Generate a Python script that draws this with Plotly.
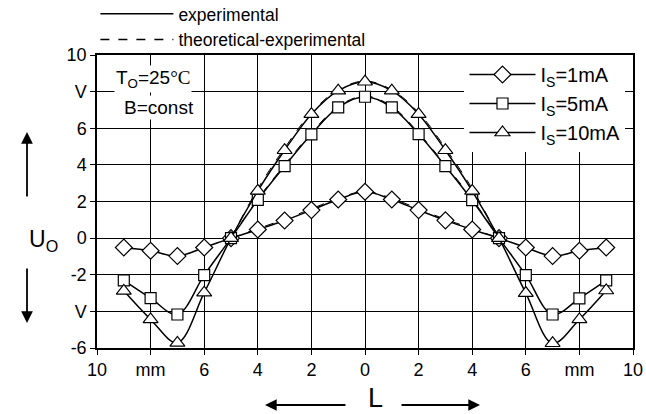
import plotly.graph_objects as go

# ---- data ----
x_pos = [-9, -8, -7, -6, -5, -4, -3, -2, -1, 0, 1, 2, 3, 4, 5, 6, 7, 8, 9]
u_1mA = [-0.51, -0.69, -0.98, -0.51, 0, 0.47, 0.96, 1.53, 2.11, 2.53, 2.11, 1.53, 0.97, 0.47, 0, -0.51, -0.98, -0.69, -0.51]
u_5mA = [-2.31, -3.28, -4.17, -2.02, 0, 2.09, 3.93, 5.67, 7.14, 7.72, 7.14, 5.68, 3.93, 2.07, 0, -2.02, -4.17, -3.29, -2.31]
u_10mA = [-2.88, -4.44, -5.72, -2.98, 0, 2.58, 4.80, 6.77, 8.05, 8.54, 8.05, 6.77, 4.80, 2.58, 0, -3.00, -5.74, -4.44, -2.86]

x_theo = [-5, -4, -3, -2, -1, 0, 1, 2, 3, 4, 5]
t_1mA = [0, 0.52, 1.03, 1.60, 2.17, 2.56, 2.17, 1.60, 1.03, 0.52, 0]
t_5mA = [0, 2.14, 4.00, 5.75, 7.20, 7.76, 7.20, 5.75, 4.00, 2.14, 0]
t_10mA = [0, 2.70, 4.92, 6.86, 8.10, 8.58, 8.10, 6.86, 4.92, 2.70, 0]

x_tickvals = [-10, -8, -6, -4, -2, 0, 2, 4, 6, 8, 10]
x_ticktext = ["10", "mm", "6", "4", "2", "0", "2", "4", "6", "mm", "10"]
y_tickvals = [-6, -4, -2, 0, 2, 4, 6, 8, 10]
y_ticktext = ["-6", "V", "-2", "0", "2", "4", "6", "V", "10"]

series_names = ["I<sub>S</sub>=1mA", "I<sub>S</sub>=5mA", "I<sub>S</sub>=10mA"]
symbols = ["diamond", "square", "triangle-up"]
sizes = [13, 11, 13]

FONT = "Liberation Sans, Arial, sans-serif"

fig = go.Figure()

# theoretical dashed curves (drawn first)
for t in [t_1mA, t_5mA, t_10mA]:
    fig.add_trace(go.Scatter(
        x=x_theo, y=t, mode="lines", line=dict(color="black", width=1, dash="dash", shape="spline"),
        showlegend=False, hoverinfo="skip"))

# experimental curves
for u, name, sym, sz in zip([u_1mA, u_5mA, u_10mA], series_names, symbols, sizes):
    fig.add_trace(go.Scatter(
        x=x_pos, y=u, mode="lines+markers", name=name, legend="legend2",
        line=dict(color="black", width=1.5, shape="spline"),
        marker=dict(symbol=sym, size=sz, color="white",
                    line=dict(color="black", width=1.2))))

# legend-only entries for line styles
fig.add_trace(go.Scatter(x=[None], y=[None], mode="lines", name="experimental",
                         line=dict(color="black", width=1.5), legend="legend"))
fig.add_trace(go.Scatter(x=[None], y=[None], mode="lines", name="theoretical-experimental",
                         line=dict(color="black", width=1.5, dash="dash"), legend="legend"))

annotations = [
    dict(x=-6.45, y=8.7, xref="x", yref="y", text="T<sub>O</sub>=25<span style='font-family:Liberation Serif'>°C</span>",
         showarrow=False, xanchor="right", yanchor="middle", font=dict(size=19, family=FONT, color="black"),
         bgcolor="white"),
    dict(x=-6.3, y=7.15, xref="x", yref="y", text="B=const",
         showarrow=False, xanchor="right", yanchor="middle", font=dict(size=19, family=FONT, color="black"),
         bgcolor="white"),
    dict(x=-0.1306, y=0.3686, xref="paper", yref="paper", text="U<sub>O</sub>", showarrow=False,
         font=dict(size=23, family=FONT, color="black")),
    dict(x=0.5205, y=-0.2253, xref="paper", yref="paper", text="L", showarrow=False,
         xanchor="center", yanchor="bottom", borderpad=0,
         font=dict(size=27, family=FONT, color="black")),
    # arrows
    dict(x=-0.1306, y=0.737, xref="paper", yref="paper", text="", showarrow=True, ax=0, ay=66,
         arrowhead=2, arrowsize=1.3, arrowwidth=1.8, arrowcolor="black"),
    dict(x=-0.1306, y=0.0853, xref="paper", yref="paper", text="", showarrow=True, ax=0, ay=-56,
         arrowhead=2, arrowsize=1.3, arrowwidth=1.8, arrowcolor="black"),
    dict(x=0.3134, y=-0.1945, xref="paper", yref="paper", text="", showarrow=True, ax=82, ay=0,
         arrowhead=2, arrowsize=1.3, arrowwidth=1.8, arrowcolor="black"),
    dict(x=0.7146, y=-0.1945, xref="paper", yref="paper", text="", showarrow=True, ax=-80, ay=0,
         arrowhead=2, arrowsize=1.3, arrowwidth=1.8, arrowcolor="black"),
]

fig.update_layout(
    width=646, height=414,
    margin=dict(l=97, r=13, t=55, b=66, autoexpand=False),
    paper_bgcolor="white", plot_bgcolor="white",
    font=dict(family=FONT, size=18, color="black"),
    annotations=annotations,
    legend=dict(x=-0.003, y=0.99, xanchor="left", yanchor="bottom", xref="paper", yref="paper",
                bgcolor="rgba(0,0,0,0)", font=dict(size=17.5, family=FONT), itemwidth=73,
                tracegroupgap=0),
    legend2=dict(x=0.986, y=1.0, xanchor="right", yanchor="top", bgcolor="white",
                 font=dict(size=20, family=FONT), itemwidth=66, tracegroupgap=0),
    xaxis=dict(range=[-10, 10], tickvals=x_tickvals, ticktext=x_ticktext,
               showgrid=True, gridcolor="black", gridwidth=1, zeroline=False,
               showline=True, linecolor="black", linewidth=1.5, mirror=True,
               ticks="outside", ticklen=5, tickcolor="black", tickfont=dict(size=18)),
    yaxis=dict(range=[-6, 10], tickvals=y_tickvals, ticktext=y_ticktext,
               showgrid=True, gridcolor="black", gridwidth=1, zeroline=False,
               showline=True, linecolor="black", linewidth=1.5, mirror=True,
               ticks="outside", ticklen=5, tickcolor="black", tickfont=dict(size=18)),
    showlegend=True,
)

fig.write_html("out.html", config={"displayModeBar": False},
               post_script="document.body.style.margin='0px';document.body.style.overflow='hidden';")
